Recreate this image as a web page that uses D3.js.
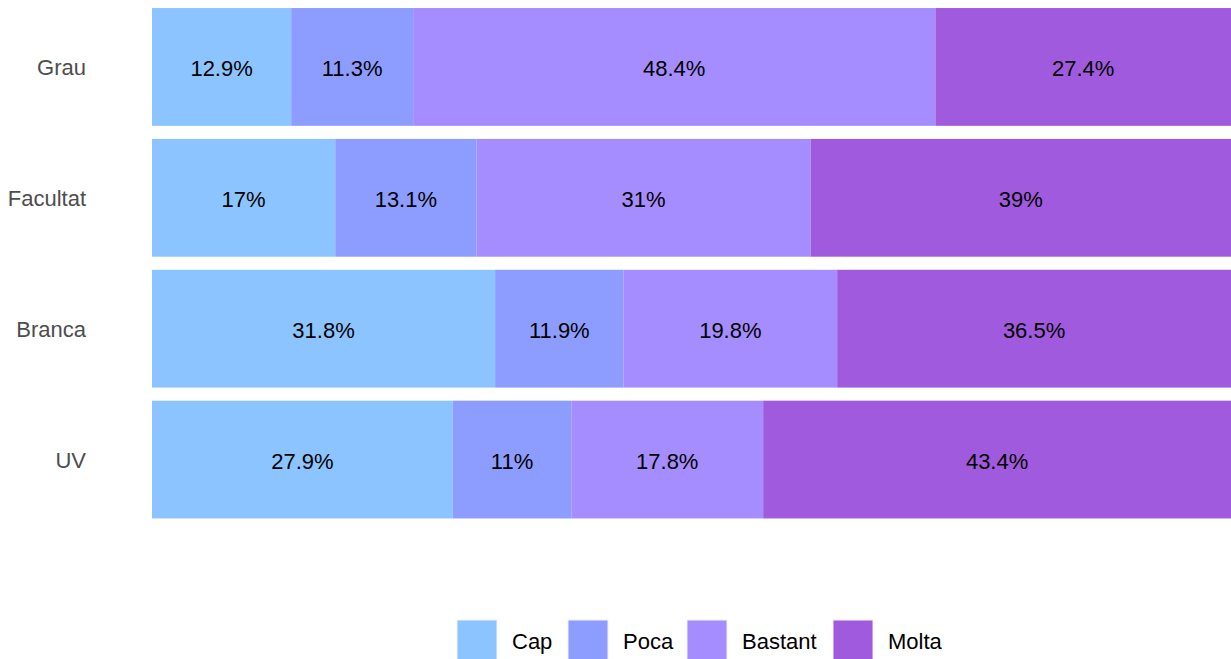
<!DOCTYPE html>
<html>
<head>
<meta charset="utf-8">
<script src="https://cdn.jsdelivr.net/npm/d3@7"></script>
<style>
body{margin:0;background:#fff;}
text{font-family:"Liberation Sans",Arial,sans-serif;}
</style>
</head>
<body>
<svg id="chart" width="1231" height="659"></svg>
<script>
const categories = ["Grau", "Facultat", "Branca", "UV"];
const seriesNames = ["Cap", "Poca", "Bastant", "Molta"];
const cap = [12.9, 17, 31.8, 27.9];
const poca = [11.3, 13.1, 11.9, 11];
const bastant = [48.4, 31, 19.8, 17.8];
const molta = [27.4, 39, 36.5, 43.4];
const colors = ["#8CC4FF", "#8C9CFF", "#A58CFF", "#A05ADD"];

const rows = categories.map((c, i) => ({cat: c, Cap: cap[i], Poca: poca[i], Bastant: bastant[i], Molta: molta[i]}));

const svg = d3.select("#chart");
const plotLeft = 152, plotRight = 1231, plotTop = 1.5, plotBottom = 525;
const fs = 22;

const stack = d3.stack().keys(seriesNames).offset(d3.stackOffsetExpand);
const series = stack(rows);

const x = d3.scaleLinear().domain([0, 1]).range([plotLeft, plotRight]);
const y = d3.scaleBand().domain(categories).range([plotTop, plotBottom]).paddingInner(0.1).paddingOuter(0.05);
const color = d3.scaleOrdinal().domain(seriesNames).range(colors);

const g = svg.append("g");
series.forEach(s => {
  const grp = g.append("g").attr("fill", color(s.key));
  grp.selectAll("rect").data(s).join("rect")
    .attr("x", d => x(d[0]))
    .attr("y", d => y(d.data.cat))
    .attr("width", d => x(d[1]) - x(d[0]))
    .attr("height", y.bandwidth());
});
series.forEach(s => {
  g.append("g").selectAll("text").data(s).join("text")
    .attr("x", d => (x(d[0]) + x(d[1])) / 2)
    .attr("y", d => y(d.data.cat) + y.bandwidth() / 2 + 9)
    .attr("text-anchor", "middle")
    .attr("font-size", fs)
    .attr("fill", "#000")
    .text(d => d.data[s.key] + "%");
});

const yAxis = d3.axisLeft(y).tickSize(0).tickPadding(66);
const ya = svg.append("g").attr("transform", `translate(${plotLeft},0)`).call(yAxis);
ya.select(".domain").remove();
ya.selectAll("text").attr("font-size", fs).attr("fill", "#4D4D4D")
  .attr("font-family", "Liberation Sans, Arial, sans-serif")
  .attr("dy", null).attr("y", 8);

// legend
const legendX = [457, 568, 687, 833];
const legend = svg.append("g");
seriesNames.forEach((n, i) => {
  legend.append("rect").attr("x", legendX[i]).attr("y", 620).attr("width", 40).attr("height", 40)
    .attr("fill", color(n)).attr("stroke", "#F2F2F2").attr("stroke-width", 1);
  legend.append("text").attr("x", legendX[i] + 55).attr("y", 648.5)
    .attr("font-size", fs).attr("fill", "#000").text(n);
});
</script>
</body>
</html>
